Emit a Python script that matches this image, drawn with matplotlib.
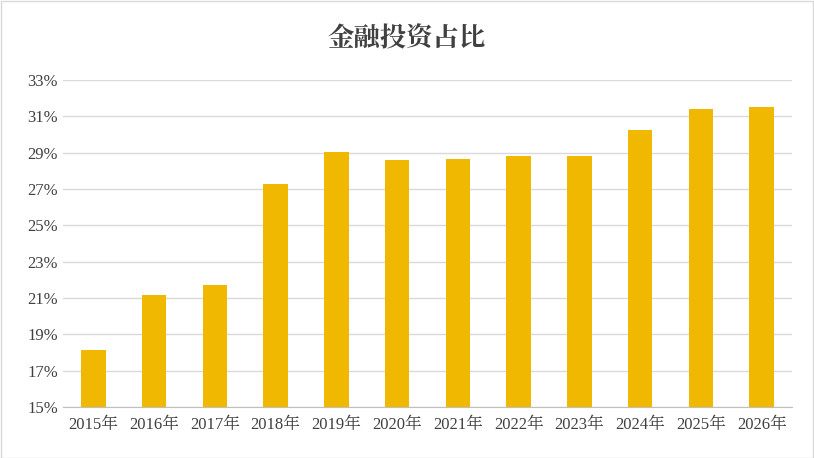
import matplotlib
matplotlib.use("Agg")
import matplotlib.pyplot as plt
from matplotlib.ticker import FuncFormatter

plt.rcParams['font.family'] = ['Liberation Serif', 'Noto Serif CJK SC', 'Noto Sans CJK SC', 'DejaVu Sans']

years = ["2015年","2016年","2017年","2018年","2019年","2020年","2021年","2022年","2023年","2024年","2025年","2026年"]
values = [18.15, 21.15, 21.7, 27.3, 29.05, 28.6, 28.65, 28.8, 28.8, 30.25, 31.4, 31.5]
yticks = [15,17,19,21,23,25,27,29,31,33]

fig = plt.figure(figsize=(8.14,4.58), dpi=100)
ax = fig.add_axes([63/814, 1-407/458, (792-63)/814, (407-80)/458])
x = range(len(years))
ax.bar(x, values, width=0.4, color='#F0B800', zorder=3)
ax.set_ylim(15,33)
ax.set_xlim(-0.5, len(years)-0.5)
ax.set_yticks(yticks)
ax.yaxis.set_major_formatter(FuncFormatter(lambda v,p: f"{v:.0f}%"))
ax.set_xticks(list(x))
ax.set_xticklabels(years)
ax.grid(axis='y', color='#D9D9D9', lw=1, zorder=0)
for s in ['top','right','left']:
    ax.spines[s].set_visible(False)
ax.spines['bottom'].set_color('#BFBFBF')
ax.tick_params(axis='both', length=0, labelsize=12, colors='#404040')
ax.tick_params(axis='x', pad=7)
fig.text(0.5, 1-38/458, "金融投资占比", ha='center', va='center', fontsize=19, color='#404040',
         fontweight='bold')
fig.patches.append(plt.Rectangle((0.001,0.001),0.998,0.997, transform=fig.transFigure, fill=False, ec='#D9D9D9', lw=1))
fig.savefig("out.png", dpi=100)
